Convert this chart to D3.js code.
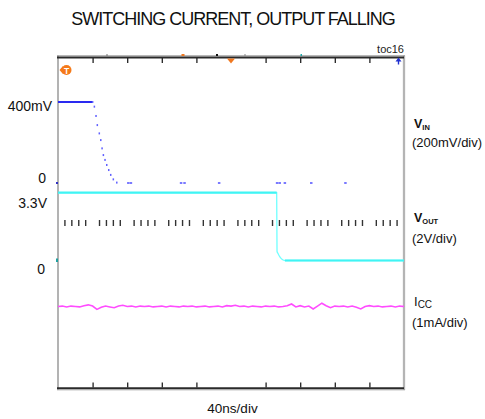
<!DOCTYPE html>
<html><head><meta charset="utf-8">
<script src="https://cdn.jsdelivr.net/npm/d3@7"></script>
<style>body{margin:0;background:#fff}svg{display:block;font-family:"Liberation Sans",Arial,sans-serif}</style>
</head><body>
<script>
// ---- data ----
const divTicks = [40, 80, 120, 160, 240, 280, 320, 360];           // ns (major graticule ticks)
const vinT  = [0, 40, 42, 43.9, 45.4, 47.7, 49.4, 50.9, 52.4, 54.3, 56.3, 58.6, 60.9, 63.9, 67.9];
const vinMv = [400, 400, 377, 331, 286, 245, 212, 171, 138, 114, 89, 64, 40, 18, 2];
const vinZeroT = [81, 84, 142, 146, 186, 253, 256, 262, 292.5, 332];
const vinZeroMv = [0, 0, 0, 0, 0, 0, 0, 0, 0, 0];
const voutT = [0, 252.8, 253.2, 254.5, 256.5, 259.3, 262.4, 400];
const voutV = [3.3, 3.3, 0.45, 0.33, 0.18, 0.05, 0, 0];
const iccT = [0,5,10,15,20,25,30,35,40,45,50,55,60,65,70,75,80,85,90,95,100,105,110,115,120,125,130,135,140,145,150,155,160,165,170,175,180,185,190,195,200,205,210,215,220,225,230,235,240,245,250,255,260,265,270,275,280,285,290,295,300,305,310,315,320,325,330,335,340,345,350,355,360,365,370,375,380,385,390,395,400];
const iccMa = [0,0.01,-0.01,0.01,0,-0.01,0.02,0.04,0.01,-0.07,-0.02,0.01,-0.01,-0.03,0.01,0.03,0,0.01,-0.01,0.01,0,0.01,-0.01,0,0.01,-0.01,0.01,0,-0.01,0.01,0,0.01,-0.01,0,0.01,-0.01,0,0.01,-0.01,0.02,0.01,0.03,0,0.01,-0.01,0.01,0,-0.01,0.01,0,0.01,-0.01,0,0.02,0.06,-0.01,0.02,-0.01,0.01,-0.06,0.01,0.08,0.02,-0.03,0.01,0,0.01,-0.01,0.01,-0.02,-0.06,0,0.02,0,0.01,-0.01,0,0.01,-0.01,0.01,0];
const leftLabels = ["400mV", "0", "3.3V", "0"];
const rightNames = [["V", "IN"], ["V", "OUT"], ["I", "CC"]];
const rightScales = ["(200mV/div)", "(2V/div)", "(1mA/div)"];

// ---- layout ----
const W = 485, H = 419;
const X0 = 58, X1 = 404, Y0 = 57, Y1 = 388;
const svg = d3.select("body").append("svg").attr("width", W).attr("height", H);
const x = d3.scaleLinear().domain([0, 400]).range([X0, X1]);
const yVin = d3.scaleLinear().domain([0, 400]).range([183, 102]);
const yVout = d3.scaleLinear().domain([0, 3.3]).range([260.5, 192.7]);
const yIcc = d3.scaleLinear().domain([0, 1]).range([306.5, 265.1]);

// title
svg.append("text").attr("x", 233).attr("y", 25).attr("text-anchor", "middle")
  .attr("font-size", 18).attr("letter-spacing", -1).attr("fill", "#111")
  .text("SWITCHING CURRENT, OUTPUT FALLING");
svg.append("text").attr("x", 404).attr("y", 53).attr("text-anchor", "end")
  .attr("font-size", 11).attr("fill", "#222").text("toc16");

// frame
svg.append("line").attr("x1", X0).attr("x2", X0).attr("y1", 55.5).attr("y2", 390).attr("stroke", "#a0a0a0").attr("stroke-width", 1.6);
svg.append("line").attr("x1", X1).attr("x2", X1).attr("y1", 55.5).attr("y2", 390).attr("stroke", "#b4b4b4").attr("stroke-width", 2.3);
svg.append("line").attr("x1", X0 - 1).attr("x2", X1 + 1).attr("y1", 55.8).attr("y2", 55.8).attr("stroke", "#9a9a9a").attr("stroke-width", 1);
svg.append("line").attr("x1", X0 - 1).attr("x2", X1).attr("y1", 57.5).attr("y2", 57.5).attr("stroke", "#2a2a2a").attr("stroke-width", 2);
svg.append("line").attr("x1", X0 - 1).attr("x2", X1).attr("y1", 388.3).attr("y2", 388.3).attr("stroke", "#2a2a2a").attr("stroke-width", 2);
svg.append("line").attr("x1", X0 - 1).attr("x2", X1 + 1).attr("y1", 389.8).attr("y2", 389.8).attr("stroke", "#a0a0a0").attr("stroke-width", 1);

// axes ticks
const topAx = svg.append("g").attr("transform", `translate(0,${Y0 + 1})`)
  .call(d3.axisBottom(x).tickValues(divTicks).tickSize(5).tickFormat(""));
const botAx = svg.append("g").attr("transform", `translate(0,${Y1 - 0.5})`)
  .call(d3.axisTop(x).tickValues(divTicks).tickSize(5).tickFormat(""));
[topAx, botAx].forEach(g => { g.select(".domain").remove(); g.selectAll("line").attr("stroke", "#222").attr("stroke-width", 1.3); });

// center minor ticks
const minor = d3.range(0, 400, 8).filter(t => t % 40 !== 0);
svg.append("g").selectAll("line").data(minor).join("line")
  .attr("x1", d => x(d)).attr("x2", d => x(d)).attr("y1", 220).attr("y2", 226)
  .attr("stroke", "#333").attr("stroke-width", 1.4);

// top scope markers
svg.append("rect").attr("x", 106.5).attr("y", 54).attr("width", 1).attr("height", 2).attr("fill", "#777");
svg.append("rect").attr("x", 181.5).attr("y", 54).attr("width", 3).attr("height", 2).attr("fill", "#f07820");
svg.append("rect").attr("x", 216).attr("y", 54).attr("width", 2).attr("height", 2).attr("fill", "#111");
svg.append("rect").attr("x", 244.5).attr("y", 54).attr("width", 1).attr("height", 2).attr("fill", "#888");
svg.append("rect").attr("x", 300.5).attr("y", 54).attr("width", 1.5).attr("height", 2).attr("fill", "#20a8a8");
svg.append("path").attr("d", "M227,58.5 L235,58.5 L231,63.5 Z").attr("fill", "#f07820");
svg.append("path").attr("d", "M398.5,57.5 L395.5,61.5 L397.8,61.5 L397.8,64.5 L399.2,64.5 L399.2,61.5 L401.5,61.5 Z").attr("fill", "#2030d0");
// trigger "T" marker
svg.append("path").attr("d", "M59.5,70 L63,66 L63,74 Z").attr("fill", "#f57a1a");
svg.append("circle").attr("cx", 66.5).attr("cy", 70).attr("r", 5).attr("fill", "#f57a1a");
svg.append("text").attr("x", 66.5).attr("y", 73.5).attr("text-anchor", "middle").attr("font-size", 8.5)
  .attr("font-weight", "bold").attr("fill", "#fff").text("T");
// channel ground markers
svg.append("rect").attr("x", 56).attr("y", 182).attr("width", 2).attr("height", 2).attr("fill", "#3030c0");
svg.append("rect").attr("x", 56).attr("y", 258.5).attr("width", 2).attr("height", 3.5).attr("fill", "#20a0a0");

// left labels
const ll = [[52, 110.7], [46, 182.7], [47, 208], [45, 274]];
svg.append("g").selectAll("text").data(leftLabels).join("text")
  .attr("x", (d, i) => ll[i][0]).attr("y", (d, i) => ll[i][1]).attr("text-anchor", "end")
  .attr("font-size", 14).attr("fill", "#111").text(d => d);

// ---- traces ----
// ICC
const iccPts = iccT.map((t, i) => [x(t), yIcc(iccMa[i])]);
svg.append("path").attr("d", d3.line()(iccPts)).attr("fill", "none")
  .attr("stroke", "#ff4cff").attr("stroke-width", 1.6);

// VOUT
const voutPts = voutT.map((t, i) => [x(t), yVout(voutV[i])]);
svg.append("path").attr("d", d3.line().curve(d3.curveMonotoneX)(voutPts)).attr("fill", "none")
  .attr("stroke", "#70ffff").attr("stroke-width", 1.3);
for (let i = 0; i < voutPts.length - 1; i++) {
  if (voutV[i] === voutV[i + 1]) {
    svg.append("line").attr("x1", voutPts[i][0]).attr("x2", voutPts[i + 1][0])
      .attr("y1", voutPts[i][1]).attr("y2", voutPts[i + 1][1])
      .attr("stroke", "#40f4f4").attr("stroke-width", 2.2);
  }
}

// VIN
svg.append("line").attr("x1", x(vinT[0])).attr("x2", x(vinT[1]))
  .attr("y1", yVin(vinMv[0])).attr("y2", yVin(vinMv[1]))
  .attr("stroke", "#2a2af0").attr("stroke-width", 2);
svg.append("g").selectAll("rect").data(vinT.slice(1)).join("rect")
  .attr("x", d => x(d) - 0.7).attr("y", (d, i) => yVin(vinMv[i + 1]) - 1)
  .attr("width", 1.5).attr("height", 2).attr("fill", "#6060ff");
svg.append("g").selectAll("rect").data(vinZeroT).join("rect")
  .attr("x", d => x(d) - 1).attr("y", (d, i) => yVin(vinZeroMv[i]) - 0.8)
  .attr("width", 2.5).attr("height", 1.6).attr("fill", "#5a5aff");

// right labels
const rn = [128, 222, 306];
rightNames.forEach((n, i) => {
  const bold = i < 2;
  const t = svg.append("text").attr("x", 414).attr("y", rn[i]).attr("fill", "#111")
    .attr("font-weight", bold ? "bold" : "normal").attr("font-size", bold ? 12.5 : 13);
  t.append("tspan").text(n[0]);
  t.append("tspan").attr("dy", 2).attr("font-size", bold ? 7.5 : 10).text(n[1]);
});
const rs = [147, 243, 327];
svg.append("g").selectAll("text").data(rightScales).join("text")
  .attr("x", 412).attr("y", (d, i) => rs[i]).attr("font-size", 13).attr("fill", "#111").text(d => d);

// x label
svg.append("text").attr("x", 232.5).attr("y", 412.5).attr("text-anchor", "middle")
  .attr("font-size", 13.5).attr("fill", "#111").text("40ns/div");
</script>
</body></html>
